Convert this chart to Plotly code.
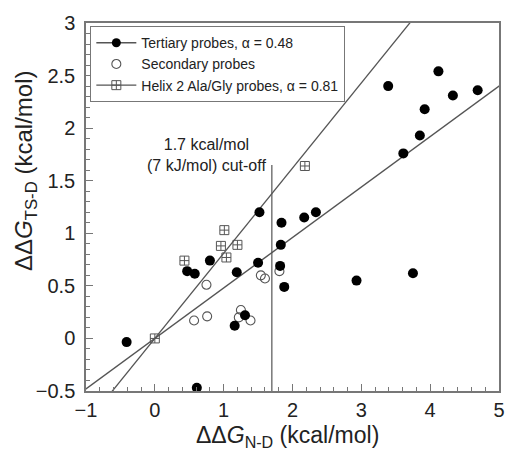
import numpy as np
import plotly.graph_objects as go

# Tertiary probes (filled circles)
tert_x = [-0.41, 0.47, 0.58, 0.80, 1.19, 1.16, 1.31, 0.61, 1.50, 1.52, 1.84, 2.17, 2.34,
          1.83, 1.82, 1.88, 2.93, 3.75, 3.39, 4.12, 4.33, 4.69, 3.92, 3.85, 3.61]
tert_y = [-0.035, 0.64, 0.615, 0.74, 0.63, 0.12, 0.22, -0.47, 0.72, 1.20, 1.10, 1.15, 1.20,
          0.89, 0.69, 0.49, 0.55, 0.62, 2.40, 2.54, 2.31, 2.36, 2.18, 1.93, 1.76]

# Secondary probes (open circles)
sec_x = [0.75, 0.57, 0.76, 1.25, 1.22, 1.39, 1.54, 1.60, 1.81]
sec_y = [0.51, 0.17, 0.21, 0.27, 0.20, 0.17, 0.60, 0.57, 0.64]

# Helix 2 Ala/Gly probes (boxed crosses)
helix_x = [0.0, 0.43, 1.01, 0.96, 1.20, 1.04, 2.18]
helix_y = [0.0, 0.74, 1.03, 0.88, 0.89, 0.77, 1.64]

# Fit slopes (alpha values)
alpha_tert = 0.48
alpha_helix = 0.81

# Cut-off
cutoff_x = 1.7
cutoff_top = 1.65

line_color = "#555555"
fit_x = np.array([-2.0, 6.0])

fig = go.Figure()

# Fit lines (with legend symbols); endpoint markers fall outside the axes and are clipped
fig.add_trace(go.Scatter(
    x=fit_x, y=alpha_tert * fit_x, mode="lines+markers",
    line=dict(color=line_color, width=1.3),
    marker=dict(symbol="circle", size=9, color="black"),
    name="Tertiary probes, \u03b1 = 0.48", cliponaxis=True))
fig.add_trace(go.Scatter(
    x=sec_x, y=sec_y, mode="markers",
    marker=dict(symbol="circle-open", size=9, color="#555555", line=dict(width=1.1)),
    name="Secondary probes"))
fig.add_trace(go.Scatter(
    x=fit_x, y=alpha_helix * fit_x, mode="lines+markers",
    line=dict(color=line_color, width=1.3),
    marker=dict(symbol="square-cross-open", size=9, color="#555555", line=dict(width=1)),
    name="Helix 2 Ala/Gly probes, \u03b1 = 0.81", cliponaxis=True))

# Data markers
fig.add_trace(go.Scatter(
    x=tert_x, y=tert_y, mode="markers", showlegend=False,
    marker=dict(symbol="circle", size=10, color="black")))
fig.add_trace(go.Scatter(
    x=helix_x, y=helix_y, mode="markers", showlegend=False,
    marker=dict(symbol="square-cross-open", size=9, color="#555555", line=dict(width=1))))

# Cut-off vertical line
fig.add_trace(go.Scatter(
    x=[cutoff_x, cutoff_x], y=[-0.5, cutoff_top], mode="lines", showlegend=False,
    line=dict(color=line_color, width=1.2)))

fig.add_annotation(
    x=0.75, y=1.74, xref="x", yref="y",
    text="1.7 kcal/mol<br>(7 kJ/mol) cut-off", showarrow=False,
    font=dict(size=16, color="#222222"), xanchor="center", yanchor="middle")

# Axis titles as annotations (placed like the reference)
fig.add_annotation(
    x=0.487, y=-0.124, xref="paper", yref="paper",
    text="\u0394\u0394<i>G</i><sub>N-D</sub> (kcal/mol)", showarrow=False,
    font=dict(size=23, color="#222222"), xanchor="center", yanchor="middle")
fig.add_annotation(
    x=-0.148, y=0.60, xref="paper", yref="paper", textangle=-90,
    text="\u0394\u0394<i>G</i><sub>TS-D</sub> (kcal/mol)", showarrow=False,
    font=dict(size=24, color="#222222"), xanchor="center", yanchor="middle")

axis_common = dict(
    showgrid=False, zeroline=False, showline=True, linecolor="#777777", linewidth=1.5,
    mirror=True, ticks="inside", ticklen=7, tickwidth=1, tickcolor="#777777",
    tickfont=dict(size=20, color="#222222"),
)

fig.update_xaxes(
    range=[-1, 5], dtick=1, tick0=0,
    minor=dict(dtick=0.2, ticks="inside", ticklen=4, tickcolor="#777777", tickwidth=1),
    **axis_common)
fig.update_yaxes(
    range=[-0.5, 3], dtick=0.5, tick0=0, ticklabelstandoff=5,
    minor=dict(dtick=0.1, ticks="inside", ticklen=4, tickcolor="#777777", tickwidth=1),
    **axis_common)

fig.update_layout(
    width=511, height=449,
    margin=dict(l=86, r=6, t=23, b=58),
    plot_bgcolor="white", paper_bgcolor="white",
    font=dict(family="Liberation Sans, Arial, sans-serif", color="#222222"),
    legend=dict(x=0.01, y=0.992, xanchor="left", yanchor="top",
                bgcolor="white", bordercolor="#777777", borderwidth=1.2,
                font=dict(size=14), tracegroupgap=0, itemwidth=40),
)

fig.write_html("out.html")
